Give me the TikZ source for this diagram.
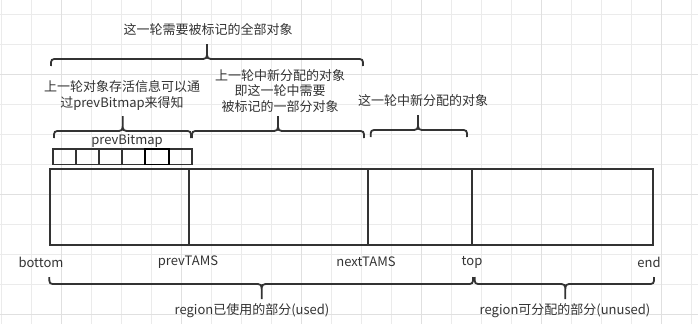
\documentclass[tikz,border=0pt]{standalone}
\usepackage{fontspec}
\newfontfamily\cjk{Noto Sans CJK SC}
\definecolor{ink}{HTML}{333333}
\begin{document}
\begin{tikzpicture}[
  x=1pt, y=-1pt,
  font=\cjk\fontsize{13}{15.5}\selectfont,
  txt/.style={text=ink, inner sep=0pt, align=center},
  wall/.style={draw=ink, line width=2pt},
  cell/.style={draw=ink, line width=1.6pt, minimum width=23.17pt, minimum height=15.5pt, inner sep=0pt, outer sep=0pt},
  bracket/.style={draw=ink, line width=1.8pt},
  gridline/.style={draw=black!8, line width=0.8pt},
  gridmajor/.style={draw=black!12, line width=0.8pt},
]
\useasboundingbox (0,0) rectangle (698,324);

% Background grid of the editor, 30px apart.
\foreach \k in {0,...,23} {
  \draw[gridline] (1.7+30*\k,0) -- (1.7+30*\k,324);
}
\foreach \k in {0,...,10} {
  \draw[gridline] (0,14.3+30*\k) -- (698,14.3+30*\k);
}
\foreach \k in {0,...,5} {
  \draw[gridmajor] (61.7+120*\k,0) -- (61.7+120*\k,324);
}
\foreach \k in {0,...,2} {
  \draw[gridmajor] (0,74.3+120*\k) -- (698,74.3+120*\k);
}

% The region, split at prevTAMS, nextTAMS and top.
\draw[wall] (50,169) rectangle (653,245);
\draw[wall] (189,169) -- (189,245);
\draw[wall] (367.5,169) -- (367.5,245);
\draw[wall] (471.5,169) -- (471.5,245);

% prevBitmap: six cells above the region, one of them marked.
\foreach \i in {1,...,6} {
  \node[cell] (c\i) at ({52.7+23.17*(\i-0.5)}, 156.75) {};
}
\node[cell, draw=black, line width=1.9pt] (mark) at (c5) {};

% Curly brackets: start x / tip x / end x / line y / tip direction.
\foreach \xa/\xm/\xb/\yh/\s in {51/207/363/59/-1, 54/122.7/191/131/-1,
    192/278/364/131/-1, 370.7/418/467/130/-1,
    49.3/261.7/473/284/1, 474.7/565.3/654/284/1} {
  \draw[bracket] ({\xa},{\yh-(\s)*7}) .. controls ({\xa},{\yh}) .. ({\xa+7},{\yh})
    -- ({\xm-8},{\yh}) .. controls ({\xm},{\yh}) .. ({\xm},{\yh+(\s)*8})
    -- ({\xm},{\yh+(\s)*15}) -- ({\xm},{\yh+(\s)*8})
    .. controls ({\xm},{\yh}) .. ({\xm+8},{\yh})
    -- ({\xb-7},{\yh}) .. controls ({\xb},{\yh}) .. ({\xb},{\yh-(\s)*7});
}

% Texts above the brackets.
\node[txt] (all) at (208,29) {这一轮需要被标记的全部对象};
\node[txt] (prevlive) at (122,95.5) {上一轮对象存活信息可以通\\过prevBitmap来得知};
\node[txt] (prevnew) at (280,91) {上一轮中新分配的对象\\即这一轮中需要\\被标记的一部分对象};
\node[txt] (curnew) at (423,101) {这一轮中新分配的对象};
\node[txt] (bitmap) at (127,141) {prevBitmap};

% Pointer names under the region.
\node[txt] (bottom) at (41,262) {bottom};
\node[txt] (prevtams) at (188,262) {prevTAMS};
\node[txt] (nexttams) at (366,262) {nextTAMS};
\node[txt] (top) at (472,262) {top};
\node[txt] (end) at (649,262) {end};

% Used and unused parts.
\node[txt] (used) at (252,311) {region已使用的部分(used)};
\node[txt] (unused) at (565,311) {region可分配的部分(unused)};

\end{tikzpicture}
\end{document}
